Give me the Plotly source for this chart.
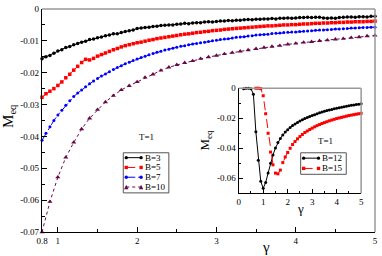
import numpy as np
import plotly.graph_objects as go

# ---------------- data ----------------
gamma_main = [round(0.8 + 0.05 * i, 2) for i in range(85)]
gamma_b10 = [round(0.8 + 0.1 * i, 2) for i in range(43)]

m_b3 = [-0.0156, -0.0150, -0.0146, -0.0139,
        -0.0132, -0.0128, -0.0121, -0.0118, -0.0112, -0.0108, -0.0104, -0.0101, -0.0096, -0.0094,
        -0.0090, -0.0088, -0.0084, -0.0082, -0.0078, -0.0078, -0.0074, -0.0071, -0.0068, -0.0066,
        -0.0061, -0.0060, -0.0058, -0.0057, -0.0055, -0.0054, -0.0052, -0.0051, -0.0050, -0.0050,
        -0.0048, -0.0047, -0.0045, -0.0046, -0.0044, -0.0043, -0.0043, -0.0041, -0.0040, -0.0041,
        -0.0039, -0.0038, -0.0038, -0.0036, -0.0037, -0.0035, -0.0035, -0.0034, -0.0033, -0.0034,
        -0.0032, -0.0032, -0.0031, -0.0031, -0.0030, -0.0031, -0.0029, -0.0029, -0.0028, -0.0029,
        -0.0028, -0.0027, -0.0027, -0.0026, -0.0027, -0.0026, -0.0026, -0.0028, -0.0029, -0.0028,
        -0.0029, -0.0027, -0.0026, -0.0025, -0.0025, -0.0026, -0.0024, -0.0024, -0.0025, -0.0023,
        -0.0023]

m_b5 = [-0.0277, -0.0266, -0.0258, -0.0250,
        -0.0240, -0.0229, -0.0216, -0.0205, -0.0192, -0.0180, -0.0168, -0.0158, -0.0160, -0.0155,
        -0.0148, -0.0143, -0.0138, -0.0133, -0.0128, -0.0124, -0.0119, -0.0115, -0.0112, -0.0109,
        -0.0106, -0.0104, -0.0101, -0.0098, -0.0096, -0.0093, -0.0091, -0.0089, -0.0087, -0.0085,
        -0.0083, -0.0081, -0.0079, -0.0078, -0.0076, -0.0074, -0.0073, -0.0071, -0.0070, -0.0068,
        -0.0067, -0.0066, -0.0064, -0.0063, -0.0062, -0.0061, -0.0060, -0.0059, -0.0058, -0.0057,
        -0.0056, -0.0055, -0.0054, -0.0053, -0.0053, -0.0052, -0.0051, -0.0050, -0.0050, -0.0049,
        -0.0049, -0.0048, -0.0047, -0.0047, -0.0046, -0.0045, -0.0045, -0.0044, -0.0044, -0.0043,
        -0.0043, -0.0042, -0.0042, -0.0041, -0.0041, -0.0040, -0.0040, -0.0040, -0.0039, -0.0039,
        -0.0038]

m_b7 = [-0.0412, -0.0390, -0.0370, -0.0350,
        -0.0333, -0.0318, -0.0302, -0.0288, -0.0275, -0.0264, -0.0254, -0.0244, -0.0235, -0.0226,
        -0.0218, -0.0210, -0.0204, -0.0197, -0.0190, -0.0184, -0.0178, -0.0172, -0.0167, -0.0162,
        -0.0157, -0.0152, -0.0148, -0.0144, -0.0140, -0.0136, -0.0133, -0.0129, -0.0126, -0.0123,
        -0.0120, -0.0117, -0.0115, -0.0112, -0.0110, -0.0108, -0.0106, -0.0104, -0.0102, -0.0100,
        -0.0098, -0.0096, -0.0094, -0.0093, -0.0091, -0.0089, -0.0088, -0.0087, -0.0085, -0.0084,
        -0.0082, -0.0081, -0.0080, -0.0079, -0.0077, -0.0076, -0.0075, -0.0074, -0.0073, -0.0072,
        -0.0072, -0.0071, -0.0070, -0.0069, -0.0068, -0.0067, -0.0066, -0.0066, -0.0065, -0.0064,
        -0.0063, -0.0063, -0.0062, -0.0061, -0.0060, -0.0060, -0.0059, -0.0058, -0.0058, -0.0057,
        -0.0057]

m_b10 = [-0.0700, -0.0605, -0.0528, -0.0466, -0.0419, -0.0377, -0.0343, -0.0316, -0.0292, -0.0272,
         -0.0254, -0.0241, -0.0229, -0.0215, -0.0205, -0.0193, -0.0183, -0.0175, -0.0169, -0.0163,
         -0.0156, -0.0151, -0.0146, -0.0141, -0.0137, -0.0133, -0.0129, -0.0125, -0.0121, -0.0118,
         -0.0115, -0.0111, -0.0108, -0.0105, -0.0103, -0.0100, -0.0098, -0.0095, -0.0093, -0.0090,
         -0.0088, -0.0085, -0.0083]

gamma_b12 = [round(0.2 + 0.1 * i, 2) for i in range(49)]
m_b12 = [-0.0004, 0.0, 0.0, -0.0003, -0.0040, -0.0290, -0.0480, -0.0620, -0.0666, -0.0628,
         -0.0565, -0.0500, -0.0445, -0.0398, -0.0362, -0.0334, -0.0311, -0.0292, -0.0276, -0.0262,
         -0.0249, -0.0238, -0.0228, -0.0219, -0.0210, -0.0202, -0.0195, -0.0188, -0.0182, -0.0176,
         -0.0170, -0.0164, -0.0159, -0.0154, -0.0149, -0.0145, -0.0141, -0.0137, -0.0133, -0.0130,
         -0.0126, -0.0123, -0.0120, -0.0117, -0.0114, -0.0111, -0.0108, -0.0106, -0.0104]

gamma_b15 = [round(0.7 + 0.1 * i, 2) for i in range(44)]
m_b15 = [0.0, 0.0, -0.0003, -0.0050, -0.0170, -0.0300, -0.0425, -0.0510, -0.0565, -0.0570,
         -0.0545, -0.0495, -0.0458, -0.0428, -0.0400, -0.0375, -0.0355, -0.0337, -0.0322, -0.0308,
         -0.0295, -0.0285, -0.0275, -0.0266, -0.0257, -0.0249, -0.0242, -0.0235, -0.0229, -0.0223,
         -0.0217, -0.0212, -0.0207, -0.0202, -0.0198, -0.0194, -0.0190, -0.0186, -0.0182, -0.0179,
         -0.0176, -0.0173, -0.0170, -0.0167]

main_xticks = [0.8, 1, 2, 3, 4, 5]
main_xticktext = ["0.8", "1", "2", "3", "4", "5"]
main_yticks = [-0.07, -0.06, -0.05, -0.04, -0.03, -0.02, -0.01, 0]
main_yticktext = ["-0.07", "-0.06", "-0.05", "-0.04", "-0.03", "-0.02", "-0.01", "0"]
inset_xticks = [0, 1, 2, 3, 4, 5]
inset_yticks = [-0.06, -0.04, -0.02, 0]
inset_yticktext = ["-0.06", "-0.04", "-0.02", "0"]

# ---------------- figure ----------------
FONT = "Liberation Serif, Times New Roman, serif"
MAROON = "#670748"
W, H = 382, 256
ML, MR, MT, MB = 42, 4, 4, 24
PW, PH = W - ML - MR, H - MT - MB


def px(xp):
    return (xp - ML) / PW


def py(yp):
    return (H - MB - yp) / PH


series_main = [
    dict(name="B=3", x=gamma_main, y=m_b3, color="black", dash="solid", symbol="circle", size=3.5),
    dict(name="B=5", x=gamma_main, y=m_b5, color="red", dash="dash", symbol="square", size=3.5),
    dict(name="B=7", x=gamma_main, y=m_b7, color="blue", dash="dashdot", symbol="circle", size=3),
    dict(name="B=10", x=gamma_b10, y=m_b10, color=MAROON, dash="dot", symbol="triangle-up", size=4.5),
]
series_inset = [
    dict(name="B=12", x=gamma_b12, y=m_b12, color="black", dash="solid", symbol="circle", size=3),
    dict(name="B=15", x=gamma_b15, y=m_b15, color="red", dash="dash", symbol="square", size=3),
]

fig = go.Figure()
for s in series_main:
    fig.add_trace(go.Scatter(x=s["x"], y=s["y"], name=s["name"], mode="lines+markers",
                             line=dict(color=s["color"], width=1, dash=s["dash"]),
                             marker=dict(symbol=s["symbol"], size=s["size"], color=s["color"]),
                             xaxis="x", yaxis="y", cliponaxis=False, showlegend=False))
for s in series_inset:
    fig.add_trace(go.Scatter(x=s["x"], y=s["y"], name=s["name"], mode="lines+markers",
                             line=dict(color=s["color"], width=1, dash=s["dash"]),
                             marker=dict(symbol=s["symbol"], size=s["size"], color=s["color"]),
                             xaxis="x2", yaxis="y2", cliponaxis=False, showlegend=False))

tickfont = dict(family=FONT, size=9, color="black")
axis_common = dict(showline=True, linecolor="black", linewidth=1.2, ticks="inside",
                   tickcolor="black", tickwidth=1, showgrid=False, zeroline=False,
                   tickfont=tickfont)

# inset domain (pixel box 240.5..364 x 85..192.5)
ix0, ix1 = px(240.5), px(364)
iy0, iy1 = py(192.5), py(85)

fig.update_layout(
    width=W, height=H,
    margin=dict(l=ML, r=MR, t=MT, b=MB),
    paper_bgcolor="white", plot_bgcolor="white",
    font=dict(family=FONT, color="black"),
    showlegend=False,
    xaxis=dict(range=[0.8, 5], tickvals=main_xticks, ticktext=main_xticktext, ticklen=5,
               minor=dict(ticks="inside", dtick=0.5, tick0=0, ticklen=3, tickcolor="black"),
               **axis_common),
    yaxis=dict(range=[-0.07, 0], tickvals=main_yticks, ticktext=main_yticktext, ticklen=5,
               minor=dict(ticks="inside", dtick=0.005, tick0=0, ticklen=3, tickcolor="black"),
               **axis_common),
    xaxis2=dict(domain=[ix0, ix1], anchor="y2", range=[0, 5], tickvals=inset_xticks, ticklen=4,
                minor=dict(ticks="inside", dtick=0.5, tick0=0, ticklen=2.5, tickcolor="black"),
                **axis_common),
    yaxis2=dict(domain=[iy0, iy1], anchor="x2", range=[-0.07, 0], tickvals=inset_yticks,
                ticktext=inset_yticktext, ticklen=4,
                minor=dict(ticks="inside", dtick=0.01, tick0=0, ticklen=2.5, tickcolor="black"),
                **axis_common),
)

# grey top/right frame lines
frame = dict(color="#999999", width=1.5)
fig.add_shape(type="line", xref="paper", yref="paper", x0=0, x1=1, y0=1, y1=1, line=frame)
fig.add_shape(type="line", xref="paper", yref="paper", x0=1, x1=1, y0=0, y1=1, line=frame)
fig.add_shape(type="line", xref="paper", yref="paper", x0=ix0, x1=ix1, y0=iy1, y1=iy1, line=frame)
fig.add_shape(type="line", xref="paper", yref="paper", x0=ix1, x1=ix1, y0=iy0, y1=iy1, line=frame)


def marker_shape(symbol, cx, cy, r, color):
    if symbol == "circle":
        fig.add_shape(type="circle", xref="paper", yref="paper",
                      x0=px(cx - r), x1=px(cx + r), y0=py(cy + r), y1=py(cy - r),
                      line=dict(width=0), fillcolor=color)
    elif symbol == "square":
        fig.add_shape(type="rect", xref="paper", yref="paper",
                      x0=px(cx - r), x1=px(cx + r), y0=py(cy + r), y1=py(cy - r),
                      line=dict(width=0), fillcolor=color)
    else:
        path = "M {} {} L {} {} L {} {} Z".format(px(cx - r), py(cy + r), px(cx + r), py(cy + r),
                                                  px(cx), py(cy - r))
        fig.add_shape(type="path", xref="paper", yref="paper", path=path,
                      line=dict(width=0), fillcolor=color)


def draw_legend(series, box, row_y, line_x0, line_x1, text_x):
    bx0, by0, bx1, by1 = box
    fig.add_shape(type="rect", xref="paper", yref="paper", x0=px(bx0), x1=px(bx1),
                  y0=py(by1), y1=py(by0), line=dict(color="#555555", width=1),
                  fillcolor="white")
    for s, yy in zip(series, row_y):
        fig.add_shape(type="line", xref="paper", yref="paper", x0=px(line_x0), x1=px(line_x1),
                      y0=py(yy), y1=py(yy), line=dict(color=s["color"], width=1, dash=s["dash"]))
        r = 1.7 if s["symbol"] != "triangle-up" else 2.2
        marker_shape(s["symbol"], line_x0, yy, r, s["color"])
        marker_shape(s["symbol"], line_x1, yy, r, s["color"])
        fig.add_annotation(text=s["name"], x=px(text_x), y=py(yy), xref="paper", yref="paper",
                           showarrow=False, xanchor="left", yanchor="middle",
                           font=dict(family=FONT, size=9, color="black"))


draw_legend(series_main, (124, 151, 170, 192), [156, 166, 176, 186], 127, 142, 144)
draw_legend(series_inset, (303, 151, 349, 173), [156.5, 167], 306, 321, 322)

ann = [
    dict(text="M<sub>eq</sub>", x=px(8), y=py(113), textangle=-90, size=15),
    dict(text="γ", x=px(268), y=py(247), textangle=0, size=15),
    dict(text="T=1", x=px(147), y=py(135), textangle=0, size=9),
    dict(text="M<sub>eq</sub>", x=px(207), y=py(138), textangle=-90, size=13),
    dict(text="γ", x=px(303), y=py(208), textangle=0, size=13),
    dict(text="T=1", x=px(328), y=py(139), textangle=0, size=9),
]
for a in ann:
    fig.add_annotation(text=a["text"], x=a["x"], y=a["y"], xref="paper", yref="paper",
                       showarrow=False, textangle=a["textangle"], xanchor="center", yanchor="middle",
                       font=dict(family=FONT, size=a["size"], color="black"))

fig.write_html("out.html", config={"displayModeBar": False},
               post_script="document.body.style.margin='0';")
